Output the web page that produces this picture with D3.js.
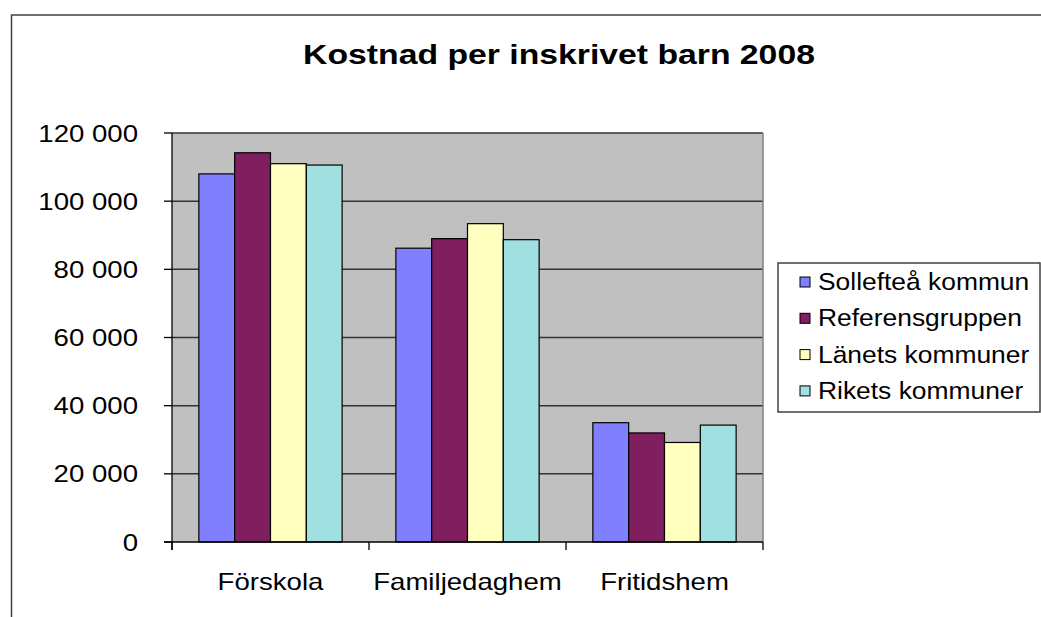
<!DOCTYPE html>
<html>
<head>
<meta charset="utf-8">
<script src="https://cdn.jsdelivr.net/npm/d3@7"></script>
<style>
  body { margin: 0; background: #fff; }
  text { font-family: "Liberation Sans", Arial, sans-serif; fill: #000; }
</style>
</head>
<body>
<svg id="chart" width="1041" height="617"></svg>
<script>
"use strict";

// data
var categories = ["Förskola", "Familjedaghem", "Fritidshem"];
var seriesNames = ["Sollefteå kommun", "Referensgruppen", "Länets kommuner", "Rikets kommuner"];
var seriesColors = ["#8080FF", "#7F1F5F", "#FFFFC0", "#A0E0E0"];
var sollefteaValues = [108000, 86200, 35000];
var referensValues = [114200, 89000, 32000];
var lanetsValues = [111000, 93400, 29200];
var riketsValues = [110600, 88700, 34300];
var yTicks = [0, 20000, 40000, 60000, 80000, 100000, 120000];
var yTickLabels = ["0", "20 000", "40 000", "60 000", "80 000", "100 000", "120 000"];
var title = "Kostnad per inskrivet barn 2008";

var seriesValues = [sollefteaValues, referensValues, lanetsValues, riketsValues];

var svg = d3.select("#chart");

var plot = { left: 172, right: 763, top: 133, bottom: 542 };

// outer chart frame (right and bottom edges lie outside the window)
svg.append("rect")
    .attr("x", 11.5).attr("y", 15)
    .attr("width", 1200).attr("height", 800)
    .attr("fill", "#fff")
    .attr("stroke", "#404040")
    .attr("stroke-width", 1.5);

// stretched text helper, the original picture is wider than the font
function stretchedText(parent, x, y, str, size, sx, anchor, weight) {
    return parent.append("g")
        .attr("transform", "translate(" + x + "," + y + ") scale(" + sx + ",1)")
        .append("text")
        .attr("text-anchor", anchor)
        .attr("font-size", size)
        .attr("font-weight", weight || "normal")
        .text(str);
}

// gap width 150%: each category step = 5.5 bar widths
var step = (plot.right - plot.left) / categories.length;
var barW = step / 5.5;

var x0 = d3.scaleBand()
    .domain(categories)
    .range([plot.left, plot.right]);

var x1 = d3.scaleBand()
    .domain(d3.range(seriesNames.length))
    .range([0, barW * 4]);

var y = d3.scaleLinear()
    .domain([0, 120000])
    .range([plot.bottom, plot.top]);

// plot background
svg.append("rect")
    .attr("x", plot.left).attr("y", plot.top)
    .attr("width", plot.right - plot.left)
    .attr("height", plot.bottom - plot.top)
    .attr("fill", "#C0C0C0");

// gridlines
svg.append("g")
    .selectAll("line")
    .data(yTicks.slice(1))
    .join("line")
    .attr("x1", plot.left).attr("x2", plot.right)
    .attr("y1", function (d) { return y(d); })
    .attr("y2", function (d) { return y(d); })
    .attr("stroke", "#333")
    .attr("stroke-width", 1.5);

// right border of plot
svg.append("line")
    .attr("x1", plot.right).attr("x2", plot.right)
    .attr("y1", plot.top).attr("y2", plot.bottom)
    .attr("stroke", "#808080")
    .attr("stroke-width", 1.5);

// bars
var groups = svg.append("g")
    .selectAll("g")
    .data(categories)
    .join("g")
    .attr("transform", function (d) {
        return "translate(" + (x0(d) + barW * 0.75) + ",0)";
    });

groups.selectAll("rect")
    .data(function (d, i) {
        return seriesValues.map(function (vals, s) { return { s: s, v: vals[i] }; });
    })
    .join("rect")
    .attr("x", function (d) { return x1(d.s); })
    .attr("width", x1.bandwidth())
    .attr("y", function (d) { return y(d.v); })
    .attr("height", function (d) { return plot.bottom - y(d.v); })
    .attr("fill", function (d) { return seriesColors[d.s]; })
    .attr("stroke", "#000")
    .attr("stroke-width", 1.2);

// axes
var axisG = svg.append("g").attr("stroke", "#000").attr("stroke-width", 1.3);
axisG.append("line")
    .attr("x1", plot.left).attr("x2", plot.left)
    .attr("y1", plot.top).attr("y2", plot.bottom + 8);
axisG.append("line")
    .attr("x1", plot.left - 8).attr("x2", plot.right)
    .attr("y1", plot.bottom).attr("y2", plot.bottom);
axisG.selectAll("line.ytick")
    .data(yTicks)
    .join("line")
    .attr("class", "ytick")
    .attr("x1", plot.left - 8).attr("x2", plot.left)
    .attr("y1", function (d) { return y(d); })
    .attr("y2", function (d) { return y(d); });
axisG.selectAll("line.xtick")
    .data(d3.range(categories.length + 1))
    .join("line")
    .attr("class", "xtick")
    .attr("x1", function (i) { return plot.left + step * i; })
    .attr("x2", function (i) { return plot.left + step * i; })
    .attr("y1", plot.bottom).attr("y2", plot.bottom + 8);

// y tick labels
yTicks.forEach(function (t, i) {
    stretchedText(svg, 138, y(t) + 8.5, yTickLabels[i], 23, 1.2, "end");
});

// category labels
categories.forEach(function (c) {
    stretchedText(svg, x0(c) + x0.bandwidth() / 2, 590, c, 23, 1.2, "middle");
});

// title
stretchedText(svg, 559, 64, title, 27, 1.25, "middle", "bold");

// legend
var legend = { x: 778, y: 263, w: 262, h: 149 };
svg.append("rect")
    .attr("x", legend.x).attr("y", legend.y)
    .attr("width", legend.w).attr("height", legend.h)
    .attr("fill", "#fff")
    .attr("stroke", "#404040")
    .attr("stroke-width", 1.5);

seriesNames.forEach(function (name, i) {
    var base = 290 + i * 36.3;
    svg.append("rect")
        .attr("x", 800).attr("y", base - 13)
        .attr("width", 10).attr("height", 10)
        .attr("fill", seriesColors[i])
        .attr("stroke", "#000")
        .attr("stroke-width", 1);
    stretchedText(svg, 818, base, name, 24, 1.1, "start");
});
</script>
</body>
</html>
